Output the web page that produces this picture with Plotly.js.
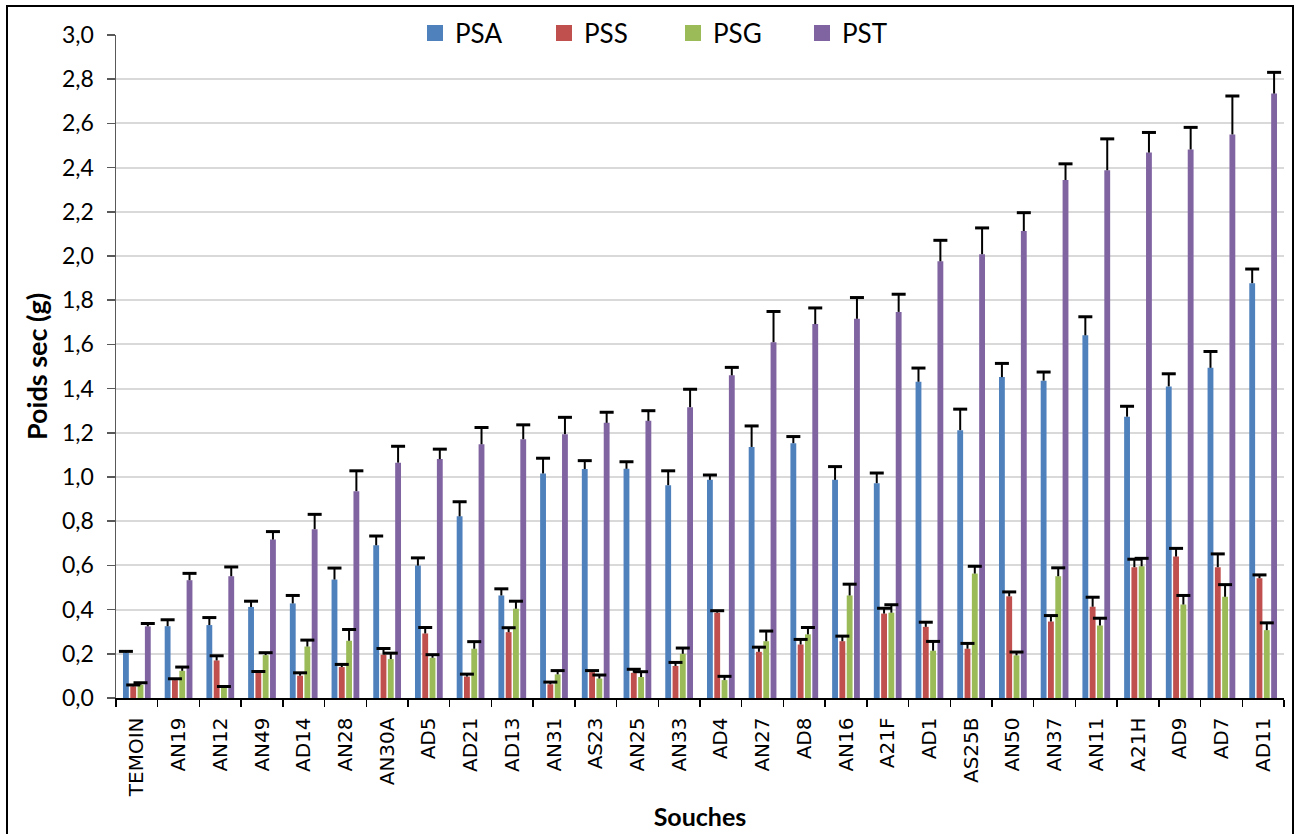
<!DOCTYPE html>
<html>
<head>
<meta charset="utf-8">
<script src="https://cdn.plot.ly/plotly-3.0.1.min.js"></script>
<style>
  html, body { margin: 0; padding: 0; background: #fff; }
  #wrap { position: relative; width: 1298px; height: 834px; }
  #chart { width: 1298px; height: 834px; }
  #frame { position: absolute; left: 6px; top: 5px; width: 1284px; height: 830px; border: 2px solid #000; pointer-events: none; box-sizing: content-box; }
</style>
</head>
<body>
<div id="wrap"><div id="chart"></div><div id="frame"></div></div>
<script>
// ---- data ----
var categories = ['TEMOIN','AN19','AN12','AN49','AD14','AN28','AN30A','AD5','AD21','AD13','AN31','AS23','AN25','AN33','AD4','AN27','AD8','AN16','A21F','AD1','AS25B','AN50','AN37','AN11','A21H','AD9','AD7','AD11'];

var PSA = [0.206,0.325,0.330,0.412,0.428,0.536,0.691,0.599,0.822,0.464,1.016,1.036,1.037,0.963,0.987,1.136,1.153,0.987,0.972,1.431,1.212,1.452,1.436,1.641,1.273,1.410,1.494,1.877];
var PSA_err = [0.005,0.029,0.034,0.026,0.036,0.052,0.042,0.035,0.066,0.030,0.069,0.038,0.032,0.065,0.022,0.095,0.030,0.060,0.046,0.062,0.095,0.062,0.039,0.084,0.047,0.057,0.074,0.064];

var PSS = [0.053,0.081,0.170,0.114,0.101,0.140,0.196,0.292,0.097,0.298,0.062,0.117,0.114,0.145,0.386,0.209,0.242,0.257,0.382,0.322,0.223,0.460,0.346,0.413,0.592,0.640,0.592,0.542];
var PSS_err = [0.006,0.006,0.021,0.006,0.013,0.012,0.028,0.027,0.011,0.020,0.010,0.007,0.016,0.016,0.009,0.021,0.023,0.023,0.024,0.021,0.024,0.020,0.027,0.043,0.036,0.037,0.060,0.015];

var PSG = [0.060,0.123,0.047,0.194,0.233,0.259,0.176,0.182,0.223,0.404,0.107,0.088,0.095,0.200,0.081,0.257,0.288,0.464,0.386,0.214,0.563,0.193,0.551,0.328,0.596,0.423,0.458,0.307];
var PSG_err = [0.009,0.017,0.005,0.011,0.029,0.051,0.027,0.014,0.032,0.034,0.017,0.016,0.024,0.026,0.017,0.046,0.031,0.051,0.036,0.042,0.033,0.015,0.038,0.033,0.036,0.041,0.055,0.033];

var PST = [0.324,0.533,0.551,0.717,0.764,0.936,1.065,1.081,1.148,1.171,1.194,1.245,1.254,1.316,1.460,1.610,1.692,1.716,1.747,1.976,2.008,2.113,2.344,2.388,2.468,2.482,2.550,2.735];
var PST_err = [0.013,0.031,0.042,0.036,0.067,0.092,0.074,0.045,0.076,0.065,0.076,0.048,0.046,0.081,0.036,0.139,0.073,0.096,0.080,0.095,0.119,0.083,0.073,0.142,0.091,0.100,0.174,0.096];

var seriesNames = ['PSA','PSS','PSG','PST'];
var seriesColors = ['#4F81BD','#C0504D','#9BBB59','#8064A2'];
// ---- end data ----

var vals = [PSA, PSS, PSG, PST];
var errs = [PSA_err, PSS_err, PSG_err, PST_err];

var traces = [];
vals.forEach(function(v, k) {
  var zeros = v.map(function(){ return 0; });
  traces.push({
    type: 'bar', name: seriesNames[k], x: categories, y: v,
    offsetgroup: 'g' + k, showlegend: false,
    marker: { color: seriesColors[k], line: { width: 0 } },
    error_y: { type: 'data', symmetric: false, array: errs[k], arrayminus: zeros,
               width: 0, thickness: 2, color: '#000' },
    hoverinfo: 'x+y+name'
  });
});
vals.forEach(function(v, k) {
  var tops = v.map(function(val, i){ return val + errs[k][i]; });
  traces.push({
    type: 'scatter', mode: 'markers', x: categories, y: tops,
    offsetgroup: 'g' + k, showlegend: false, hoverinfo: 'skip',
    marker: { symbol: 'line-ew', size: 10, line: { width: 3, color: '#000' }, color: '#000' }
  });
});
vals.forEach(function(v, k) {
  traces.push({
    type: 'scatter', mode: 'markers', x: [null], y: [null], name: seriesNames[k],
    offsetgroup: 'g' + k, showlegend: true, hoverinfo: 'skip',
    marker: { symbol: 'square', size: 16, color: seriesColors[k] }
  });
});

var layout = {
  width: 1298, height: 834,
  paper_bgcolor: '#fff', plot_bgcolor: '#fff',
  margin: { l: 116, r: 14, t: 35, b: 136, autoexpand: false },
  barmode: 'group', bargap: 0.3, bargroupgap: 0.2,
  scattermode: 'group', scattergap: 0.3,
  separators: ',.',
  showlegend: true,
  legend: {
    orientation: 'h', xref: 'container', yref: 'container',
    x: 415/1298, xanchor: 'left', y: 1 - 33/834, yanchor: 'middle',
    font: { family: 'Lato, sans-serif', size: 26, color: '#000' },
    entrywidth: 84, entrywidthmode: 'pixels', bgcolor: 'rgba(0,0,0,0)',
    itemsizing: 'trace'
  },
  xaxis: {
    type: 'category', showline: true, linecolor: '#000', linewidth: 1.5,
    ticks: 'outside', tickson: 'boundaries', ticklen: 7, tickwidth: 1.5, tickcolor: '#000',
    ticklabelstandoff: 10,
    tickangle: -90, tickfont: { family: 'DejaVu Sans, sans-serif', size: 20, color: '#000' },
    showgrid: false, zeroline: false, automargin: false,
    title: { text: '<b>Souches</b>', font: { family: 'Lato, sans-serif', size: 25, color: '#000' }, standoff: 12 }
  },
  yaxis: {
    range: [0, 3], dtick: 0.2, tick0: 0, tickformat: '.1f',
    showgrid: true, gridcolor: '#d9d9d9', gridwidth: 2,
    showline: true, linecolor: '#595959', linewidth: 1.5,
    ticks: 'outside', ticklen: 8, tickwidth: 1.5, tickcolor: '#595959',
    ticklabelstandoff: 8,
    tickfont: { family: 'Lato, sans-serif', size: 23, color: '#000' },
    zeroline: false, automargin: false,
    title: { text: '<b>Poids sec (g)</b>', font: { family: 'Lato, sans-serif', size: 27, color: '#000' }, standoff: 6 }
  }
};

Plotly.newPlot('chart', traces, layout, { displayModeBar: false, staticPlot: true });
</script>
</body>
</html>
